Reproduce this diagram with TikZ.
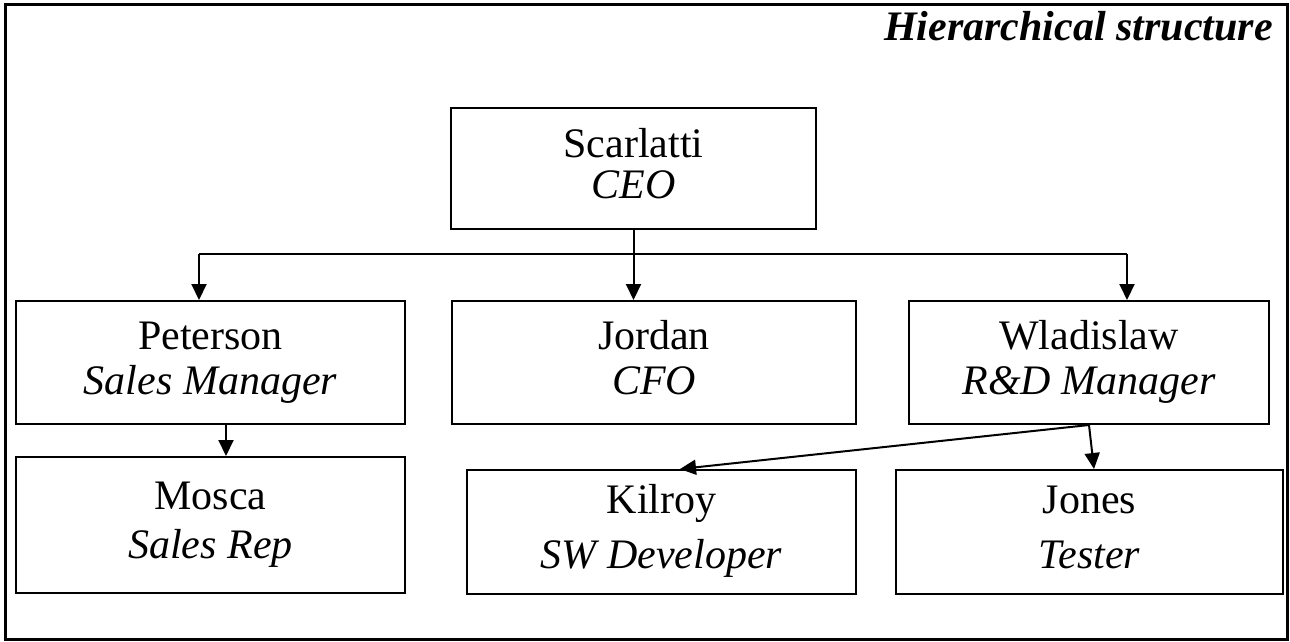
\documentclass[tikz,border=0pt]{standalone}
\usepackage{fontspec}
\setmainfont{Liberation Serif}
\usetikzlibrary{positioning,arrows.meta,calc}
\tikzset{>={Triangle[length=16pt,width=15pt]}}
\tikzset{
  person/.style={draw, rectangle, line width=2pt, inner sep=0pt, align=center,
    font=\fontsize{42}{45}\selectfont},
  title/.style={font=\fontsize{42}{45}\selectfont\bfseries\itshape},
}
% name on the first line, role in italics below
\newcommand{\who}[3][0pt]{\rule{0pt}{31.5pt}#2\\[#1]\strut\textit{#3}}

\begin{document}
\begin{tikzpicture}[x=1pt, y=-1pt, line width=2pt]
        \useasboundingbox (0,0) rectangle (1290,641);
        \draw[line width=3pt] (5.5,4) rectangle (1287,639.5); %outer frame
        \node[title, anchor=base east] (head) at (1277,40) {Hierarchical structure};

        \node[person, minimum width=365pt, minimum height=121pt] (scar) at (633.5,168.5) {\who[-4pt]{Scarlatti}{CEO}};
        \node[person, minimum width=389pt, minimum height=123pt] (pet) at (210.5,362.5) {\who{Peterson}{Sales Manager}};
        \node[person, minimum width=404pt, minimum height=123pt] (jor) at (654,362.5) {\who{Jordan}{CFO}};
        \node[person, minimum width=360pt, minimum height=123pt] (wla) at (1089,362.5) {\who{Wladislaw}{R\&D Manager}};
        \node[person, minimum width=389pt, minimum height=136pt] (mos) at (210.5,525) {\who[4pt]{Mosca}{Sales Rep}};
        \node[person, minimum width=389pt, minimum height=124pt] (kil) at (661.5,532) {\who[10pt]{Kilroy}{SW Developer}};
        \node[person, minimum width=387pt, minimum height=124pt] (jon) at (1089.5,532) {\who[10pt]{Jones}{Tester}};

        % bus below the CEO
        \coordinate (busL) at (199,254);
        \coordinate (busR) at (1127,254);
        \coordinate (busM) at (scar.south |- busL);
        \draw (scar.south) -- (busM);
        \draw (busL) -- (busR);

        \draw[->] (busL) -- (busL |- pet.north);
        \draw[->] (busM) -- (busM |- jor.north);
        \draw[->] (busR) -- (busR |- wla.north);

        \draw[->] ([xshift=15.5pt]pet.south) -- ([xshift=15.5pt]pet.south |- mos.north);
        \draw[->] (wla.south) -- ([xshift=18.5pt]kil.north);
        \draw[->] (wla.south) -- ([xshift=4.5pt]jon.north);
\end{tikzpicture}
\end{document}
